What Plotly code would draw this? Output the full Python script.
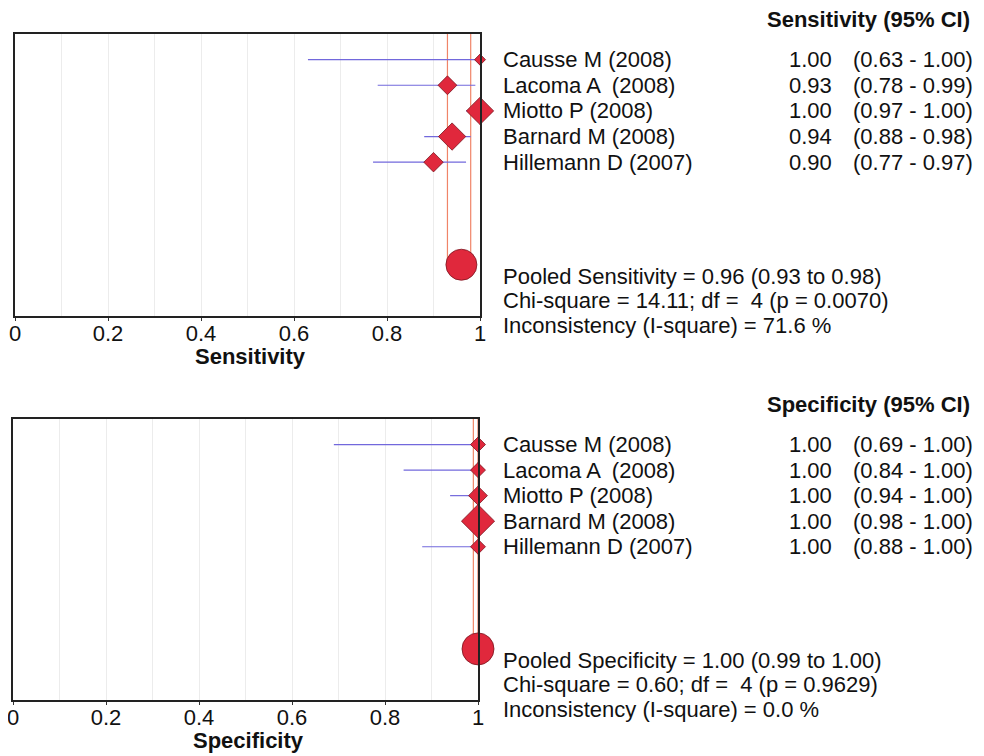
import plotly.graph_objects as go

studies = ["Causse M (2008)", "Lacoma A  (2008)", "Miotto P (2008)", "Barnard M (2008)", "Hillemann D (2007)"]
rows = [1, 2, 3, 4, 5]
pooled_row = 9

sens = [1.00, 0.93, 1.00, 0.94, 0.90]
sens_lo = [0.63, 0.78, 0.97, 0.88, 0.77]
sens_hi = [1.00, 0.99, 1.00, 0.98, 0.97]
sens_pooled, sens_pooled_lo, sens_pooled_hi = 0.96, 0.93, 0.98
sens_stats = ["Pooled Sensitivity = 0.96 (0.93 to 0.98)",
              "Chi-square = 14.11; df =  4 (p = 0.0070)",
              "Inconsistency (I-square) = 71.6 %"]

spec = [1.00, 1.00, 1.00, 1.00, 1.00]
spec_lo = [0.69, 0.84, 0.94, 0.98, 0.88]
spec_hi = [1.00, 1.00, 1.00, 1.00, 1.00]
spec_pooled, spec_pooled_lo, spec_pooled_hi = 1.00, 0.99, 1.00
spec_stats = ["Pooled Specificity = 1.00 (0.99 to 1.00)",
              "Chi-square = 0.60; df =  4 (p = 0.9629)",
              "Inconsistency (I-square) = 0.0 %"]

# study weights shown as marker sizes
sens_sizes = [8.5, 14.5, 21, 21, 15]
spec_sizes = [11.5, 11.5, 14.5, 25.5, 11.5]
pooled_sizes = [31, 32]

tick_vals = [0, 0.2, 0.4, 0.6, 0.8, 1]
tick_text = ["0", "0.2", "0.4", "0.6", "0.8", "1"]

# page body has an 8px margin: build the figure slightly smaller and offset coordinates
OFF = 8
W, H = 984 - OFF, 756 - OFF
def PX(px):
    return (px - OFF) / W
def PY(py):
    return 1 - (py - OFF) / H

FONT = "Liberation Sans, Arial, sans-serif"
FS = 22
CI_COLOR = "#7268dc"
MK_COLOR = "#e0283c"
MK_LINE = "#7a1520"
REF_COLOR = "#f08468"

fig = go.Figure()

panels = [
    dict(xa="x", ya="y", est=sens, lo=sens_lo, hi=sens_hi, sizes=sens_sizes,
         pooled=sens_pooled, plo=sens_pooled_lo, phi=sens_pooled_hi, psize=pooled_sizes[0],
         stats=sens_stats, header="Sensitivity (95% CI)", title="Sensitivity",
         px=(15, 480), py=(34, 316)),
    dict(xa="x2", ya="y2", est=spec, lo=spec_lo, hi=spec_hi, sizes=spec_sizes,
         pooled=spec_pooled, plo=spec_pooled_lo, phi=spec_pooled_hi, psize=pooled_sizes[1],
         stats=spec_stats, header="Specificity (95% CI)", title="Specificity",
         px=(13, 478), py=(419, 700)),
]

annotations = []
for p in panels:
    # reference lines for pooled CI
    for v in (p["plo"], p["phi"]):
        fig.add_trace(go.Scatter(x=[v, v], y=[0, pooled_row], xaxis=p["xa"], yaxis=p["ya"],
                                 mode="lines", line=dict(color=REF_COLOR, width=1.2),
                                 hoverinfo="skip", showlegend=False, cliponaxis=False))
    # CI lines
    xs, ys = [], []
    for r, l, h in zip(rows, p["lo"], p["hi"]):
        xs += [l, h, None]
        ys += [r, r, None]
    fig.add_trace(go.Scatter(x=xs, y=ys, xaxis=p["xa"], yaxis=p["ya"], mode="lines",
                             line=dict(color=CI_COLOR, width=1.2), showlegend=False,
                             cliponaxis=False))
    # study estimates
    fig.add_trace(go.Scatter(x=p["est"], y=rows, xaxis=p["xa"], yaxis=p["ya"], mode="markers",
                             marker=dict(symbol="diamond", size=p["sizes"], color=MK_COLOR,
                                         opacity=1, line=dict(color=MK_LINE, width=0.8)),
                             showlegend=False, cliponaxis=False))
    # pooled
    fig.add_trace(go.Scatter(x=[p["pooled"]], y=[pooled_row], xaxis=p["xa"], yaxis=p["ya"],
                             mode="markers",
                             marker=dict(symbol="circle", size=p["psize"], color=MK_COLOR,
                                         opacity=1, line=dict(color=MK_LINE, width=0.8)),
                             showlegend=False, cliponaxis=False))

    y0, y1 = p["py"]
    rowpx = (y1 - y0) / 11.0
    # header
    annotations.append(dict(x=PX(972), y=PY(y0 - 0.55 * rowpx), xref="paper", yref="paper",
                            text="<b>" + p["header"] + "</b>", showarrow=False,
                            xanchor="right", yanchor="middle",
                            font=dict(family=FONT, size=FS, color="#111")))
    for r, name, e, l, h in zip(rows, studies, p["est"], p["lo"], p["hi"]):
        annotations.append(dict(x=PX(501), y=r, xref="paper", yref=p["ya"], text=name,
                                showarrow=False, xanchor="left", yanchor="middle",
                                font=dict(family=FONT, size=FS, color="#111")))
        annotations.append(dict(x=PX(834), y=r, xref="paper", yref=p["ya"], text=f"{e:.2f}",
                                showarrow=False, xanchor="right", yanchor="middle",
                                font=dict(family=FONT, size=FS, color="#111")))
        annotations.append(dict(x=PX(851), y=r, xref="paper", yref=p["ya"],
                                text=f"({l:.2f} - {h:.2f})",
                                showarrow=False, xanchor="left", yanchor="middle",
                                font=dict(family=FONT, size=FS, color="#111")))
    pooled_px = y0 + pooled_row * rowpx
    for i, s in enumerate(p["stats"]):
        annotations.append(dict(x=PX(501), y=PY(pooled_px + 11.5 + 24.5 * i),
                                xref="paper", yref="paper", text=s, showarrow=False,
                                xanchor="left", yanchor="middle",
                                font=dict(family=FONT, size=FS, color="#111")))
    # axis title
    annotations.append(dict(x=PX((p["px"][0] + p["px"][1]) / 2 + 3), y=PY(y1 + 40),
                            xref="paper", yref="paper", text="<b>" + p["title"] + "</b>",
                            showarrow=False, xanchor="center", yanchor="middle",
                            font=dict(family=FONT, size=FS, color="#111")))

def xaxis(p):
    return dict(domain=[PX(p["px"][0]), PX(p["px"][1])], range=[0, 1], tickvals=tick_vals,
                ticktext=tick_text, ticks="outside", ticklen=3, tickcolor="#333",
                ticklabelstandoff=-6, ticklabeloverflow="allow",
                showgrid=True, gridcolor="#ececec", gridwidth=1, automargin=False,
                minor=dict(dtick=0.1, tick0=0, showgrid=True, gridcolor="#ececec", ticks=""),
                showline=True, linecolor="#222", linewidth=1.5, mirror=True, zeroline=False,
                tickfont=dict(family=FONT, size=FS, color="#111"), fixedrange=True)

def yaxis(p):
    return dict(domain=[PY(p["py"][1]), PY(p["py"][0])], range=[11, 0],
                showticklabels=False, ticks="", showgrid=False, zeroline=False, automargin=False,
                showline=True, linecolor="#222", linewidth=1.5, mirror=True, fixedrange=True)

fig.update_layout(
    width=W, height=H, margin=dict(l=0, r=0, t=0, b=0, autoexpand=False),
    paper_bgcolor="white", plot_bgcolor="white", showlegend=False,
    xaxis=dict(xaxis(panels[0]), anchor="y"),
    yaxis=dict(yaxis(panels[0]), anchor="x"),
    xaxis2=dict(xaxis(panels[1]), anchor="y2"),
    yaxis2=dict(yaxis(panels[1]), anchor="x2"),
    annotations=annotations,
)

fig.write_html("out.html")
